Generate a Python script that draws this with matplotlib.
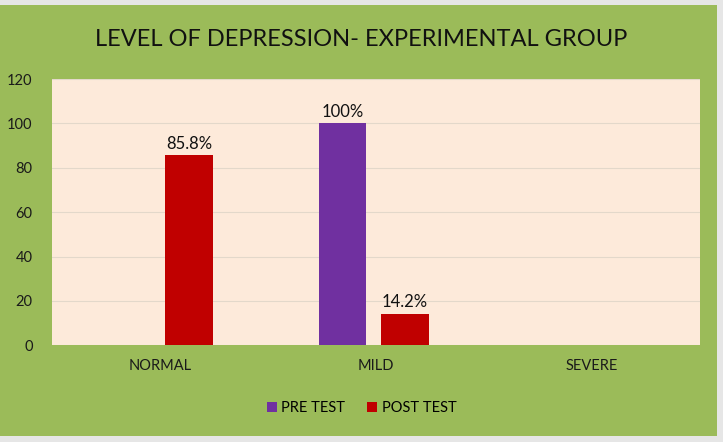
import matplotlib.pyplot as plt
import matplotlib.patches as mpatches
import numpy as np

plt.rcParams['font.family'] = ['Lato', 'DejaVu Sans']

categories = ["NORMAL", "MILD", "SEVERE"]
pre_test = [0, 100, 0]
post_test = [85.8, 14.2, 0]
pre_labels = ["", "100%", ""]
post_labels = ["85.8%", "14.2%", ""]
yticks = [0, 20, 40, 60, 80, 100, 120]

green = "#9BBB59"
purple = "#7030A0"
red = "#C00000"
bg = "#FDEADA"

fig = plt.figure(figsize=(7.23, 4.42), dpi=100)
fig.patch.set_facecolor("#e6e6e6")
fig.patches.append(mpatches.Rectangle((0, 0.014), 0.992, 0.974, transform=fig.transFigure,
                                      facecolor=green, edgecolor="none", zorder=-5))

ax = fig.add_axes([0.072, 0.219, 0.896, 0.602])
ax.set_facecolor(bg)

x = np.arange(len(categories))
w = 0.22
b1 = ax.bar(x - 0.155, pre_test, w, color=purple, label="PRE TEST", zorder=3)
b2 = ax.bar(x + 0.135, post_test, w, color=red, label="POST TEST", zorder=3)

for rect, lab in zip(b1, pre_labels):
    if lab:
        ax.text(rect.get_x() + rect.get_width() / 2, rect.get_height() + 1.5, lab,
                ha="center", va="bottom", fontsize=12, color="#111111")
for rect, lab in zip(b2, post_labels):
    if lab:
        ax.text(rect.get_x() + rect.get_width() / 2, rect.get_height() + 1.5, lab,
                ha="center", va="bottom", fontsize=12, color="#111111")

ax.set_xlim(-0.5, 2.5)
ax.set_ylim(0, 120)
ax.set_yticks(yticks)
ax.set_xticks(x)
ax.set_xticklabels(categories)
ax.tick_params(axis="both", length=0, labelsize=10.5, colors="#1a1a1a")
ax.tick_params(axis="x", pad=10)
ax.tick_params(axis="y", pad=14)
ax.grid(axis="y", color="#e3d8ca", linewidth=0.8, zorder=0)
for s in ax.spines.values():
    s.set_visible(False)

fig.text(0.5, 0.91, "LEVEL OF DEPRESSION- EXPERIMENTAL GROUP", ha="center", va="center",
         fontsize=17, color="#111111")

fig.legend(handles=[b1, b2], loc="center", bbox_to_anchor=(0.5, 0.077), ncol=2,
           frameon=False, fontsize=10.5, handlelength=0.7, handleheight=0.7,
           handletextpad=0.3, columnspacing=1.5)

fig.savefig("out.png", dpi=100, facecolor=fig.get_facecolor())
